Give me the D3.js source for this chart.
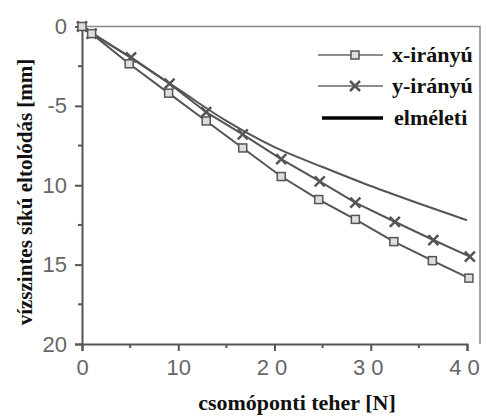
<!DOCTYPE html>
<html>
<head>
<meta charset="utf-8">
<script src="https://cdn.jsdelivr.net/npm/d3@7"></script>
<style>
  html, body { margin: 0; padding: 0; background: #fff; }
  svg { display: block; }
</style>
</head>
<body>
<svg id="chart" width="486" height="419"></svg>
<script>
// data (load in N, displacement in mm, plotted downward)
const loadX = [0, 1, 4.9, 9.0, 12.9, 16.7, 20.7, 24.6, 28.4, 32.4, 36.4, 40.2];
const dispX = [0, 0.45, 2.35, 4.2, 5.95, 7.65, 9.45, 10.9, 12.15, 13.55, 14.75, 15.85];
const loadY = [0, 1, 5.1, 9.1, 12.9, 16.7, 20.7, 24.7, 28.4, 32.5, 36.5, 40.3];
const dispY = [0, 0.45, 1.95, 3.6, 5.4, 6.8, 8.35, 9.75, 11.1, 12.3, 13.45, 14.5];
const loadT = [0, 5, 10, 15, 20, 25, 30, 35, 40];
const dispT = [0, 1.95, 3.95, 5.95, 7.6, 8.85, 10.05, 11.15, 12.2];

const xTicks = [0, 10, 20, 30, 40];
const yTicks = [0, 5, 10, 15, 20];
const yTickLabels = ["0", "-5", "10", "15", "20"];
const legendNames = ["x-irányú", "y-irányú", "elméleti"];

const svg = d3.select("#chart");
const lineColor = "#555";

const x = d3.scaleLinear().domain([0, 40]).range([82, 467]);
const y = d3.scaleLinear().domain([0, 20]).range([26.5, 344]);

// frame (top and right)
svg.append("path")
  .attr("d", `M${x(0)},${y(0)}H480V${y(20)}`)
  .attr("fill", "none")
  .attr("stroke", "#888")
  .attr("stroke-width", 1.5);

// axes
const xAxis = svg.append("g")
  .attr("transform", `translate(0,${y(20)})`)
  .call(d3.axisBottom(x).tickValues(xTicks).tickSize(7).tickPadding(8));
xAxis.append("g").selectAll("line")
  .data(d3.range(5, 40, 10))
  .join("line")
  .attr("x1", d => x(d)).attr("x2", d => x(d))
  .attr("y1", 0).attr("y2", 4)
  .attr("stroke", lineColor).attr("stroke-width", 2);

const yAxis = svg.append("g")
  .attr("transform", `translate(${x(0)},0)`)
  .call(d3.axisLeft(y).tickValues(yTicks).tickSize(7).tickPadding(8)
    .tickFormat((d, i) => yTickLabels[i]));
yAxis.append("g").selectAll("line")
  .data(d3.range(2.5, 20, 5))
  .join("line")
  .attr("y1", d => y(d)).attr("y2", d => y(d))
  .attr("x1", 0).attr("x2", -4)
  .attr("stroke", lineColor).attr("stroke-width", 2);

svg.selectAll(".domain").attr("stroke", lineColor).attr("stroke-width", 2);
svg.selectAll(".tick line").attr("stroke", lineColor).attr("stroke-width", 2);
svg.selectAll(".tick text")
  .attr("fill", "#666")
  .style("font-family", "'Liberation Sans', Arial, sans-serif")
  .style("font-size", "22px");
xAxis.selectAll(".tick text").style("letter-spacing", d => d >= 20 ? "6px" : "0px");

// axis titles
const titleFont = "'Liberation Serif', 'Times New Roman', serif";
svg.append("text")
  .attr("x", 297).attr("y", 410)
  .attr("text-anchor", "middle")
  .style("font-family", titleFont).style("font-weight", "bold").style("font-size", "22px")
  .attr("fill", "#111")
  .text("csomóponti teher [N]");
svg.append("text")
  .attr("transform", "translate(32,192) rotate(-90)")
  .attr("text-anchor", "middle")
  .style("font-family", titleFont).style("font-weight", "bold").style("font-size", "21px")
  .attr("fill", "#111")
  .text("vízszintes síkú eltolódás [mm]");

// series
const line = d3.line().x(d => x(d[0])).y(d => y(d[1]));
const ptsX = loadX.map((v, i) => [v, dispX[i]]);
const ptsY = loadY.map((v, i) => [v, dispY[i]]);
const ptsT = loadT.map((v, i) => [v, dispT[i]]);

svg.append("path").datum(ptsT)
  .attr("d", line.curve(d3.curveMonotoneX))
  .attr("fill", "none").attr("stroke", lineColor).attr("stroke-width", 2);
line.curve(d3.curveLinear);
svg.append("path").datum(ptsY)
  .attr("d", line).attr("fill", "none").attr("stroke", lineColor).attr("stroke-width", 2);
svg.append("path").datum(ptsX)
  .attr("d", line).attr("fill", "none").attr("stroke", lineColor).attr("stroke-width", 2);

function drawSquare(g, cx, cy) {
  g.append("rect")
    .attr("x", cx - 4).attr("y", cy - 4).attr("width", 8).attr("height", 8)
    .attr("fill", "#ddd").attr("stroke", lineColor).attr("stroke-width", 1.5);
}
function drawCross(g, cx, cy) {
  g.append("path")
    .attr("d", `M${cx - 5},${cy - 5}L${cx + 5},${cy + 5}M${cx - 5},${cy + 5}L${cx + 5},${cy - 5}`)
    .attr("stroke", lineColor).attr("stroke-width", 2.5);
}

const marks = svg.append("g");
ptsY.forEach(d => drawCross(marks, x(d[0]), y(d[1])));
ptsX.forEach(d => drawSquare(marks, x(d[0]), y(d[1])));

// legend
const legend = svg.append("g");
const legY = [55, 86, 118];
legendNames.forEach((name, i) => {
  legend.append("line")
    .attr("x1", i === 2 ? 322 : 318).attr("x2", 383)
    .attr("y1", legY[i]).attr("y2", legY[i])
    .attr("stroke", i === 2 ? "#000" : "#666")
    .attr("stroke-width", i === 2 ? 3.5 : 1.5);
  if (i === 0) drawSquare(legend, 355, legY[i]);
  if (i === 1) drawCross(legend, 355, legY[i]);
  legend.append("text")
    .attr("x", i === 2 ? 394 : 392).attr("y", legY[i])
    .attr("dy", "0.32em")
    .style("font-family", titleFont).style("font-weight", "bold").style("font-size", "22px")
    .attr("fill", "#111")
    .text(name);
});
</script>
</body>
</html>
